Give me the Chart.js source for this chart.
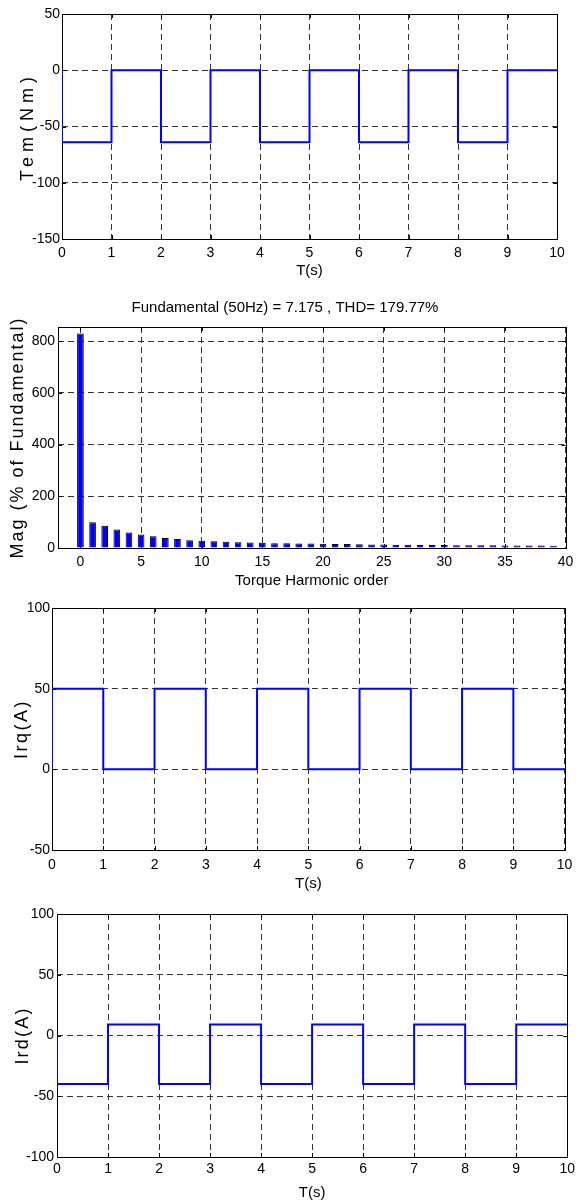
<!DOCTYPE html>
<html>
<head>
<meta charset="utf-8">
<script src="https://cdn.jsdelivr.net/npm/chart.js@4.4.1/dist/chart.umd.min.js"></script>
<style>
    body { margin: 0; background: #fff; }
    #painel { position: relative; width: 579px; height: 1203px; overflow: hidden; }
    canvas { position: absolute; left: 0; }
</style>
</head>
<body>
<div id="painel">
    <canvas id="canvasTorque" width="579" height="290" style="top:0px"></canvas>
    <canvas id="canvasHarmonicos" width="579" height="310" style="top:285px"></canvas>
    <canvas id="canvasIrq" width="579" height="300" style="top:595px"></canvas>
    <canvas id="canvasIrd" width="579" height="308" style="top:895px"></canvas>
</div>
<script>
// tempo (s) - o primeiro ponto repetido faz o degrau inicial em t = 0
var tempo = [0, 0, 1, 2, 3, 4, 5, 6, 7, 8, 9, 10];
var torque = [0, -64, 0, -64, 0, -64, 0, -64, 0, -64, 0, 0];
var irq = [0, 50, 0, 50, 0, 50, 0, 50, 0, 50, 0, 0];
var ird = [0, -40, 9, -40, 9, -40, 9, -40, 9, -40, 9, 9];

var ordemHarmonica = [0, 1, 2, 3, 4, 5, 6, 7, 8, 9, 10, 11, 12, 13, 14, 15, 16, 17, 18, 19,
                      20, 21, 22, 23, 24, 25, 26, 27, 28, 29, 30, 31, 32, 33, 34, 35, 36, 37, 38, 39];
var magnitude = [830, 100, 86, 72, 60, 52, 45, 39, 35, 30, 28.5, 26, 24.5, 22, 21, 20.5, 18, 18, 17, 17,
                 16, 15.5, 15, 14.5, 14, 13.5, 13, 12.5, 12, 12, 11.5, 11, 11, 10.5, 10.5, 10, 10, 9.5, 9.5, 9];

var tituloHarmonicos = "Fundamental (50Hz) = 7.175 , THD= 179.77%";

Chart.defaults.animation = false;
Chart.defaults.font.family = '"Liberation Sans Narrow", "Liberation Sans", Arial, sans-serif';
Chart.defaults.font.size = 14;
Chart.defaults.color = "#000";

var fonteEixo = '"Liberation Sans", Arial, sans-serif';

// caixa preta em volta do grafico + tracinhos internos (estilo matlab)
var moldura = {
    id: "moldura",
    afterLayout: function (chart) {
        // titulo do eixo y com letras espacadas, como no original
        var escala = chart.scales.y;
        if (escala._tituloEspacado) return;
        var espaco = chart.options.espacoTituloY || "0px";
        var original = escala.drawTitle;
        escala.drawTitle = function () {
            this.ctx.save();
            this.ctx.letterSpacing = espaco;
            original.call(this);
            this.ctx.restore();
        };
        escala._tituloEspacado = true;
    },
    beforeDatasetsDraw: function (chart) {
        var a = chart.chartArea;
        var ctx = chart.ctx;
        ctx.save();
        ctx.strokeStyle = "#000";
        ctx.lineWidth = 1;
        ctx.setLineDash([]);
        ctx.beginPath();
        chart.scales.x.ticks.forEach(function (t) {
            var px = Math.round(chart.scales.x.getPixelForValue(t.value)) + 0.5;
            ctx.moveTo(px, a.bottom); ctx.lineTo(px, a.bottom - 4);
            ctx.moveTo(px, a.top); ctx.lineTo(px, a.top + 4);
        });
        chart.scales.y.ticks.forEach(function (t) {
            var py = Math.round(chart.scales.y.getPixelForValue(t.value)) + 0.5;
            ctx.moveTo(a.left, py); ctx.lineTo(a.left + 4, py);
            ctx.moveTo(a.right, py); ctx.lineTo(a.right - 4, py);
        });
        ctx.stroke();
        ctx.strokeRect(Math.round(a.left) + 0.5, Math.round(a.top) + 0.5,
                       Math.round(a.right - a.left), Math.round(a.bottom - a.top));
        ctx.restore();
    }
};

function pontos(xs, ys) {
    var lista = [];
    for (var i = 0; i < xs.length; i++) {
        lista.push({ x: xs[i], y: ys[i] });
    }
    return lista;
}

function eixoX(min, max, passo, altura, padTick, titulo, padTitulo) {
    return {
        type: "linear",
        min: min,
        max: max,
        offset: false,
        afterFit: function (scale) { scale.height = altura; },
        ticks: { stepSize: passo, includeBounds: false, padding: padTick, maxRotation: 0, autoSkip: false },
        grid: { color: "#333", drawTicks: false, offset: false },
        border: { display: false, dash: [6, 4] },
        title: { display: true, text: titulo, font: { size: 15 }, padding: { top: 0, bottom: padTitulo } }
    };
}

function eixoY(min, max, passo, largura, padTick, titulo, padTitulo) {
    return {
        min: min,
        max: max,
        afterFit: function (scale) { scale.width = largura; },
        ticks: { stepSize: passo, includeBounds: false, padding: padTick },
        grid: { color: "#333", drawTicks: false },
        border: { display: false, dash: [6, 4] },
        title: { display: true, text: titulo, font: { size: 18, family: fonteEixo }, padding: { top: padTitulo, bottom: 0 } }
    };
}

function plotarOnda(idCanvas, ys, cfg) {
    var config = {
        type: "line",
        data: {
            datasets: [{
                data: pontos(tempo, ys),
                borderColor: "#0000ff",
                borderWidth: 2,
                pointRadius: 0,
                stepped: "before",
                fill: false
            }]
        },
        options: {
            responsive: false,
            devicePixelRatio: 1,
            espacoTituloY: cfg.espaco,
            layout: { autoPadding: false, padding: { left: 0, top: cfg.topo, right: 579 - cfg.direita, bottom: 0 } },
            plugins: { legend: { display: false }, tooltip: { enabled: false } },
            scales: {
                x: eixoX(0, 10, 1, cfg.alturaX, cfg.padTickX, "T(s)", cfg.padTituloX),
                y: eixoY(cfg.minY, cfg.maxY, 50, cfg.esquerda, cfg.padTickY, cfg.tituloY, cfg.padTituloY)
            }
        },
        plugins: [moldura]
    };
    new Chart(document.getElementById(idCanvas), config);
}

function plotarHarmonicos() {
    var config = {
        type: "bar",
        data: {
            datasets: [{
                data: pontos(ordemHarmonica, magnitude),
                backgroundColor: "#0000ff",
                borderColor: "#000",
                borderWidth: 1,
                barPercentage: 0.55,
                categoryPercentage: 1
            }]
        },
        options: {
            responsive: false,
            devicePixelRatio: 1,
            espacoTituloY: "2px",
            layout: { autoPadding: false, padding: { left: 0, top: 0, right: 9, bottom: 0 } },
            plugins: {
                legend: { display: false },
                tooltip: { enabled: false },
                title: { display: true, text: tituloHarmonicos, font: { size: 15, weight: "normal" }, padding: { top: 14, bottom: 10 } }
            },
            scales: {
                x: eixoX(-1.85, 40, 5, 47, 5.6, "Torque Harmonic order", 5.4),
                y: eixoY(0, 855, 200, 58, 3, "Mag (% of Fundamental)", 7)
            }
        },
        plugins: [moldura]
    };
    new Chart(document.getElementById("canvasHarmonicos"), config);
}

plotarOnda("canvasTorque", torque, {
    topo: 14, direita: 557, esquerda: 62, alturaX: 51,
    minY: -150, maxY: 50, padTickX: 6, padTituloX: 10.4, padTickY: 2,
    tituloY: "Tem(Nm)", padTituloY: 17, espaco: "5px"
});
plotarHarmonicos();
plotarOnda("canvasIrq", irq, {
    topo: 13, direita: 569, esquerda: 52, alturaX: 45,
    minY: -50, maxY: 100, padTickX: 6.6, padTituloX: 2.4, padTickY: 2,
    tituloY: "Irq(A)", padTituloY: 11, espaco: "2.5px"
});
plotarOnda("canvasIrd", ird, {
    topo: 19, direita: 570, esquerda: 57, alturaX: 46,
    minY: -100, maxY: 100, padTickX: 4, padTituloX: 1.4, padTickY: 3,
    tituloY: "Ird(A)", padTituloY: 12, espaco: "2.2px"
});
</script>
</body>
</html>
